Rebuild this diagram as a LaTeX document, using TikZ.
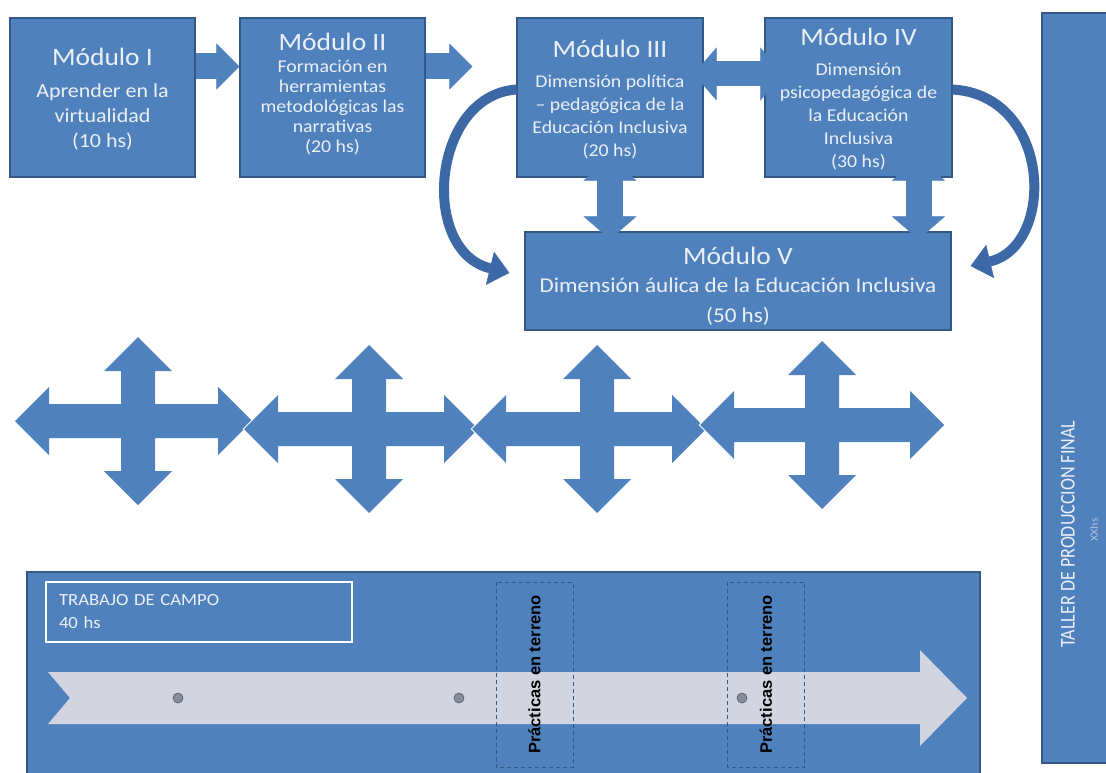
\documentclass[tikz,border=0pt]{standalone}
\usepackage{fontspec}
\setmainfont{Carlito}[FakeStretch=1.1]
\newfontfamily\practfont{Liberation Sans}
\usetikzlibrary{arrows.meta,calc}

\definecolor{ppblue}{RGB}{79,129,189}
\definecolor{ppedge}{RGB}{52,88,134}
\definecolor{pptext}{RGB}{236,240,246}
\definecolor{ppsoft}{RGB}{170,192,222}
\definecolor{ppgrey}{RGB}{210,213,224}
\definecolor{ppdot}{RGB}{136,141,156}
\definecolor{ppcurve}{RGB}{60,105,165}

\newcommand{\modtitle}{\fontsize{25}{28}\selectfont}

\tikzset{
  modulo/.style={draw=ppedge, line width=1.2pt, fill=ppblue, inner sep=0pt},
  modtext/.style={text=pptext, align=center, inner sep=0pt},
  fatarrow/.style={draw=ppblue, line width=26pt,
    -{Triangle[width=46pt,length=23pt,line width=0.5pt]}},
  fatdouble/.style={draw=ppblue, line width=26pt,
    {Triangle[width=53pt,length=23pt,line width=0.5pt]}-{Triangle[width=53pt,length=23pt,line width=0.5pt]}},
  curvearrow/.style={draw=ppcurve, line width=10pt,
    -{Triangle[width=34pt,length=20pt,line width=0.5pt]}},
  practica/.style={draw=ppedge, dash pattern=on 4pt off 3pt, line width=1pt,
    minimum width=185pt, minimum height=77pt, rotate=90, inner sep=0pt,
    font=\practfont\bfseries\fontsize{16.5}{18}\selectfont},
  dot/.style={circle, fill=ppdot, draw=ppdot!60!black, line width=0.6pt,
    minimum size=10pt, inner sep=0pt}
}

\begin{document}
\begin{tikzpicture}[x=1pt, y=-1pt]
  \useasboundingbox (0,0) rectangle (1106,773);
  \fill[white] (0,0) rectangle (1106,773);

  % cajas de los modulos
  \node[modulo, minimum width=185pt, minimum height=159pt] (m1) at (102.5,97.5) {};
  \node[modulo, minimum width=185pt, minimum height=159pt] (m2) at (332.5,97.5) {};
  \node[modulo, minimum width=186pt, minimum height=159pt] (m3) at (610,97.5) {};
  \node[modulo, minimum width=187pt, minimum height=159pt] (m4) at (858.5,97.5) {};
  \node[modulo, minimum width=426pt, minimum height=98pt] (m5) at (738,281) {};
  \node[modulo, minimum width=70pt, minimum height=750pt] (taller) at (1077,388) {};
  \node[modulo, minimum width=953pt, minimum height=210pt] (campo) at (503.5,677) {};

  % flechas entre modulos
  \draw[fatarrow] ([yshift=31pt]m1.east) -- ([yshift=31pt]m2.west);
  \draw[fatarrow, shorten >=44pt] ([yshift=31pt]m2.east) -- ([yshift=31pt]m3.west);
  \draw[fatdouble, line width=25pt, shorten <=-10pt, shorten >=-19pt]
    ([yshift=23.5pt]m3.east) -- ([yshift=23.5pt]m4.west);
  \draw[fatdouble, shorten <=-20pt, shorten >=-8pt] (m3.south) -- (m3.south |- m5.north);
  \draw[fatdouble, shorten <=-20pt, shorten >=-8pt]
    ($(m4.south)+(60,0)$) -- ($(m4.south |- m5.north)+(60,0)$);
  \draw[curvearrow] ([yshift=8pt]m3.west) .. controls +(-85,6) and +(-90,-22)
    .. ([shift={(-15pt,8pt)}]m5.west);
  \draw[curvearrow] ([yshift=8pt]m4.east) .. controls +(100,6) and +(85,-20)
    .. ([shift={(19pt,15pt)}]m5.east);

  % cruces
  \foreach \cx/\cy/\hl/\hr in {138/421/123/114, 369/429/125/109, 597/429/125/109, 822/425/122/122}{
    \fill[ppblue, preaction={draw=white, line width=2pt}]
      (\cx-\hl,\cy) -- ++(34,-34) -- ++(0,17) -- (\cx+\hr-34,\cy-17) -- ++(0,-17)
      -- (\cx+\hr,\cy) -- ++(-34,34) -- ++(0,-17) -- (\cx-\hl+34,\cy+17) -- ++(0,17) -- cycle
      (\cx,\cy-84) -- ++(34,34) -- ++(-17,0) -- (\cx+17,\cy+50) -- ++(17,0)
      -- (\cx,\cy+84) -- ++(-34,-34) -- ++(17,0) -- (\cx-17,\cy-50) -- ++(-17,0) -- cycle;
  }

  % trabajo de campo
  \fill[ppgrey] (48,672) -- (920,672) -- (920,650) -- (967,698) -- (920,746)
    -- (920,724) -- (48,724) -- (70,698) -- cycle;
  \node[draw=white, line width=2.5pt, fill=ppblue, minimum width=306pt, minimum height=60pt,
    text width=280pt, align=left, text=pptext, font=\fontsize{17}{23}\selectfont]
    (trabajo) at (199,612) {TRABAJO DE CAMPO\\40 hs};
  \node[dot] (d1) at (178,698) {};
  \node[dot] (d2) at (459,698) {};
  \node[dot] (d3) at (742,698) {};
  \node[practica] (p1) at (534.5,674.5) {Prácticas en terreno};
  \node[practica] (p2) at (766,674.5) {Prácticas en terreno};

  % textos
  \node[modtext, font=\fontsize{20}{25}\selectfont] (m1t) at (102.5,99)
    {{\modtitle Módulo I}\\[7pt] Aprender en la\\ virtualidad\\ (10 hs)};
  \node[modtext, font=\fontsize{18}{20}\selectfont] (m2t) at (332.5,94)
    {{\modtitle Módulo II}\\[2pt] Formación en\\ herramientas\\ metodológicas las\\ narrativas\\ (20 hs)};
  \node[modtext, font=\fontsize{18}{23}\selectfont] (m3t) at (610,100)
    {{\modtitle Módulo III}\\[7pt] Dimensión política\\ -- pedagógica de la\\ Educación Inclusiva\\ (20 hs)};
  \node[modtext, font=\fontsize{18}{23}\selectfont] (m4t) at (858.5,99)
    {{\modtitle Módulo IV}\\[7pt] Dimensión\\ psicopedagógica de\\ la Educación\\ Inclusiva\\ (30 hs)};
  \node[modtext, font=\fontsize{21}{30}\selectfont] (m5t) at (738,286)
    {{\modtitle Módulo V}\\[-2pt] Dimensión áulica de la Educación Inclusiva\\ (50 hs)};
  \node[rotate=90, text=pptext, font=\fontsize{21}{24}\selectfont] (tallert) at (1068,534)
    {\scalebox{0.78}[1]{TALLER DE PRODUCCION FINAL}};
  \node[rotate=90, text=ppsoft, font=\fontsize{11}{12}\selectfont] (tallerhs) at (1094,530) {XXhs};
\end{tikzpicture}
\end{document}
